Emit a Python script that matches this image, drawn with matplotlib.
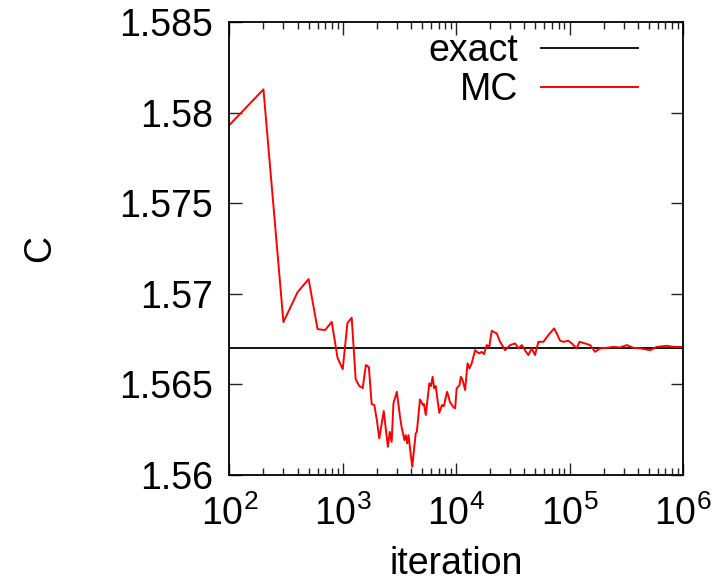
import numpy as np
import matplotlib
matplotlib.use("Agg")
import matplotlib.pyplot as plt
from matplotlib.ticker import LogLocator, NullFormatter, FixedLocator

plt.rcParams['font.family'] = ['Liberation Sans', 'DejaVu Sans']
plt.rcParams['mathtext.fontset'] = 'custom'
plt.rcParams['mathtext.rm'] = 'Liberation Sans'
plt.rcParams['mathtext.it'] = 'Liberation Sans'

# exact value of C
exact = 1.56703

# running Monte Carlo estimate vs iteration count
iterations = [100, 200, 300, 400, 500, 600, 700, 800, 900, 1000,
              1100, 1200, 1300, 1400, 1500, 1600, 1700, 1800, 1900, 2000,
              2100, 2300, 2500, 2600, 2700, 2800, 3000, 3200, 3300, 3500,
              3600, 3700, 3800, 4100, 4400, 4500, 4800, 5100, 5200, 5400,
              5800, 6000, 6200, 6400, 6600, 7100, 7500, 7800, 8300, 8500,
              8800, 9400, 9800, 10100, 10700, 11000, 11400, 12000, 12600, 13100,
              13700, 14700, 15200, 16000, 16800, 17600, 18600, 19600, 20600, 22800,
              24400, 27000, 29900, 33100, 35400, 37900, 41300, 43300, 46400, 49600,
              53100, 58800, 65000, 73000, 77100, 82500, 88200, 97600, 104600, 115700,
              122000, 137000, 151600, 167800, 185800, 212800, 243300, 278800, 319500, 365300,
              418500, 512800, 587500, 719700, 823000, 956300, 1000000]
mc = [1.57931, 1.58128, 1.56844, 1.57009, 1.57081, 1.56805, 1.56800, 1.56845, 1.56647, 1.56584,
      1.56838, 1.56868, 1.56529, 1.56491, 1.56480, 1.56607, 1.56595, 1.56391, 1.56386, 1.56303,
      1.56202, 1.56353, 1.56156, 1.56238, 1.56183, 1.56395, 1.56459, 1.56321, 1.56266, 1.56193,
      1.56220, 1.56174, 1.56220, 1.56045, 1.56230, 1.56238, 1.56417, 1.56386, 1.56391, 1.56331,
      1.56506, 1.56491, 1.56542, 1.56478, 1.56491, 1.56343, 1.56386, 1.56380, 1.56459, 1.56441,
      1.56404, 1.56376, 1.56368, 1.56478, 1.56496, 1.56542, 1.56524, 1.56469, 1.56616, 1.56588,
      1.56616, 1.56689, 1.56680, 1.56671, 1.56680, 1.56667, 1.56717, 1.56708, 1.56796, 1.56781,
      1.56735, 1.56689, 1.56717, 1.56726, 1.56699, 1.56717, 1.56680, 1.56662, 1.56699, 1.56662,
      1.56735, 1.56735, 1.56772, 1.56809, 1.56781, 1.56741, 1.56735, 1.56741, 1.56726, 1.56699,
      1.56735, 1.56726, 1.56717, 1.56680, 1.56699, 1.56702, 1.56707, 1.56704, 1.56717, 1.56702,
      1.56699, 1.56689, 1.56707, 1.56713, 1.56707, 1.56707, 1.56705]

yticks = [1.56, 1.565, 1.57, 1.575, 1.58, 1.585]
ytick_labels = ['1.56', '1.565', '1.57', '1.575', '1.58', '1.585']

fig = plt.figure(figsize=(7.21, 5.85), dpi=100)
ax = fig.add_axes([229.3/721, 110/585, (683-229.3)/721, (475-22)/585])

ax.axhline(exact, color='black', lw=1.3, label='exact')
ax.plot(iterations, mc, color='#ff0000', lw=1.4, label='MC')

ax.set_xscale('log')
ax.set_xlim(1e2, 1e6)
ax.set_ylim(1.56, 1.585)
ax.yaxis.set_major_locator(FixedLocator(yticks))
ax.set_yticklabels(ytick_labels)
ax.xaxis.set_major_locator(LogLocator(base=10, numticks=10))
ax.xaxis.set_minor_locator(LogLocator(base=10, subs=np.arange(2, 10), numticks=20))
ax.xaxis.set_minor_formatter(NullFormatter())

ax.tick_params(which='both', direction='in', top=True, right=True,
               labelsize=27, width=1.0, color='#222222')
ax.tick_params(which='major', length=9)
ax.tick_params(axis='y', which='major', pad=12)
ax.tick_params(axis='x', which='major', pad=15)
ax.tick_params(which='minor', length=5)
for s in ax.spines.values():
    s.set_linewidth(1.3)

ax.set_xlabel('iteration', fontsize=27, labelpad=9)
ax.set_ylabel('C', fontsize=27, labelpad=44)

ax.legend(loc='upper right', frameon=False, markerfirst=False, fontsize=27,
          handlelength=2.6, handletextpad=0.6, labelspacing=0.08,
          borderaxespad=0.0, bbox_to_anchor=(0.934, 1.008))

fig.savefig('out.png', dpi=100)
